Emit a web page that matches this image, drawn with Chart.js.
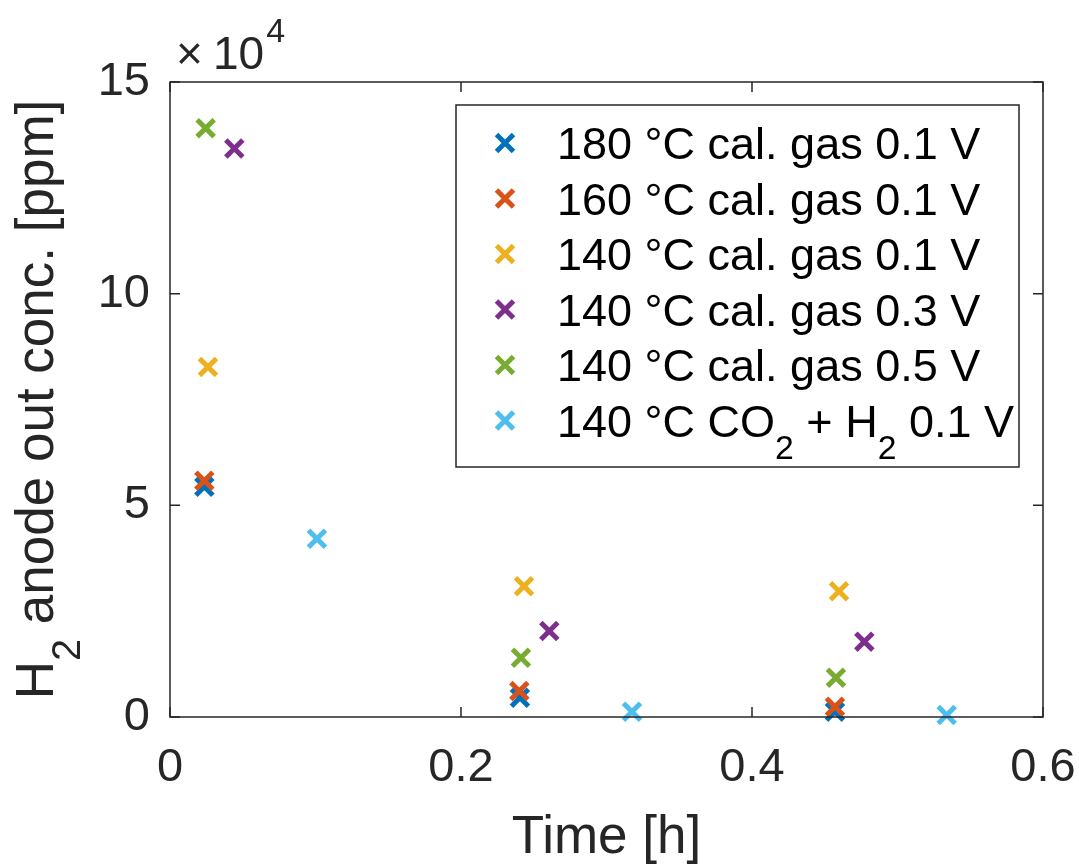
<!DOCTYPE html>
<html>
<head>
<meta charset="utf-8">
<script src="https://cdn.jsdelivr.net/npm/chart.js@4.4.0/dist/chart.umd.min.js"></script>
<style>
  html, body { margin: 0; padding: 0; background: #fff; }
  #wrap { width: 1079px; height: 866px; }
</style>
</head>
<body>
<div id="wrap"><canvas id="chart" width="1079" height="866"></canvas></div>
<script>
const seriesLabels = [
  "180 °C cal. gas 0.1 V",
  "160 °C cal. gas 0.1 V",
  "140 °C cal. gas 0.1 V",
  "140 °C cal. gas 0.3 V",
  "140 °C cal. gas 0.5 V",
  "140 °C CO_2 + H_2 0.1 V"
];
const seriesColors = ["#0072BD", "#D95319", "#EDB120", "#7E2F8E", "#77AC30", "#4DBEEE"];

// time [h] / H2 concentration [ppm] per run
const time180 = [0.0236, 0.2405, 0.4570];
const conc180 = [54400, 4560, 1250];
const time160 = [0.0236, 0.2401, 0.4570];
const conc160 = [55800, 6140, 2400];
const time140a = [0.0261, 0.2433, 0.4598];
const conc140a = [82700, 30900, 29700];
const time140b = [0.0442, 0.2607, 0.4772];
const conc140b = [134300, 20300, 17800];
const time140c = [0.0245, 0.2412, 0.4577];
const conc140c = [139100, 14000, 9300];
const timeCO2 = [0.1010, 0.3175, 0.5338];
const concCO2 = [42100, 1250, 470];

const xTicks = [0, 0.2, 0.4, 0.6];
const yTicks = [0, 50000, 100000, 150000];
const xTitle = "Time [h]";
const yTitle = "H_2 anode out conc. [ppm]";
const yExponent = 4;

const allTimes = [time180, time160, time140a, time140b, time140c, timeCO2];
const allConcs = [conc180, conc160, conc140a, conc140b, conc140c, concCO2];

const FONT = '"Liberation Sans", Arial, Helvetica, sans-serif';
const AXIS_COLOR = "#262626";

function texParts(str) {
  const parts = [];
  const re = /_(\{[^}]*\}|.)/g;
  let last = 0, m;
  while ((m = re.exec(str))) {
    if (m.index > last) parts.push({ text: str.slice(last, m.index), sub: false });
    parts.push({ text: m[1].replace(/[{}]/g, ""), sub: true });
    last = re.lastIndex;
  }
  if (last < str.length) parts.push({ text: str.slice(last), sub: false });
  return parts;
}

// draws a string with _x subscripts, baseline at y
function drawTex(ctx, str, x, y, size, align) {
  const parts = texParts(str);
  let width = 0;
  parts.forEach(p => {
    ctx.font = `${p.sub ? size * 0.75 : size}px ${FONT}`;
    p.w = ctx.measureText(p.text).width;
    width += p.w;
  });
  let cx = align === "center" ? x - width / 2 : x;
  ctx.textAlign = "left";
  ctx.textBaseline = "alphabetic";
  parts.forEach(p => {
    ctx.font = `${p.sub ? size * 0.75 : size}px ${FONT}`;
    ctx.fillText(p.text, cx, p.sub ? y + size * 0.5 : y);
    cx += p.w;
  });
}

const datasets = seriesLabels.map((label, i) => ({
  label: label,
  data: allTimes[i].map((t, j) => ({ x: t, y: allConcs[i][j] })),
  pointStyle: "crossRot",
  pointRadius: 12,
  pointHoverRadius: 12,
  pointBorderWidth: 5,
  pointHoverBorderWidth: 5,
  borderColor: seriesColors[i],
  backgroundColor: seriesColors[i],
  showLine: false,
  clip: false,
  order: seriesLabels.length - i
}));

// axes box with inward ticks on all four sides
const boxPlugin = {
  id: "matlabBox",
  afterDatasetsDraw(chart) {
    const { ctx, chartArea: a, scales } = chart;
    const len = 10;
    ctx.save();
    ctx.strokeStyle = AXIS_COLOR;
    ctx.lineWidth = 1.5;
    ctx.beginPath();
    xTicks.forEach(v => {
      const px = scales.x.getPixelForValue(v);
      ctx.moveTo(px, a.bottom); ctx.lineTo(px, a.bottom - len);
      ctx.moveTo(px, a.top); ctx.lineTo(px, a.top + len);
    });
    yTicks.forEach(v => {
      const py = scales.y.getPixelForValue(v);
      ctx.moveTo(a.left, py); ctx.lineTo(a.left + len, py);
      ctx.moveTo(a.right, py); ctx.lineTo(a.right - len, py);
    });
    ctx.stroke();
    ctx.strokeRect(a.left, a.top, a.right - a.left, a.bottom - a.top);

    // exponent above the y axis
    ctx.fillStyle = AXIS_COLOR;
    ctx.textAlign = "left";
    ctx.textBaseline = "alphabetic";
    ctx.font = `46px ${FONT}`;
    ctx.fillText("\u00d7", a.left + 6, a.top - 13);
    ctx.fillText("10", a.left + 43, a.top - 13);
    const bw = ctx.measureText("10").width;
    ctx.font = `34px ${FONT}`;
    ctx.fillText(String(yExponent), a.left + 45 + bw, a.top - 40);

    // axis titles
    drawTex(ctx, xTitle, (a.left + a.right) / 2, 853, 53, "center");
    ctx.translate(53, (a.top + a.bottom) / 2);
    ctx.rotate(-Math.PI / 2);
    drawTex(ctx, yTitle, 0, 0, 53, "center");
    ctx.restore();
  }
};

// boxed legend in the upper right of the axes
const legendPlugin = {
  id: "matlabLegend",
  afterDraw(chart) {
    const { ctx } = chart;
    const box = { left: 456, top: 105, right: 1019, bottom: 467 };
    ctx.save();
    ctx.fillStyle = "#fff";
    ctx.fillRect(box.left, box.top, box.right - box.left, box.bottom - box.top);
    ctx.strokeStyle = AXIS_COLOR;
    ctx.lineWidth = 1.5;
    ctx.strokeRect(box.left, box.top, box.right - box.left, box.bottom - box.top);
    chart.data.datasets.forEach((ds, i) => {
      const cy = 143 + i * 55.5;
      ctx.strokeStyle = ds.borderColor;
      ctx.fillStyle = ds.borderColor;
      ctx.lineWidth = 5;
      Chart.helpers.drawPoint(ctx, { pointStyle: "crossRot", radius: 12, borderWidth: 5, rotation: 0 }, 505, cy);
      ctx.fillStyle = "#000";
      drawTex(ctx, ds.label, 557, cy + 16, 45, "left");
    });
    ctx.restore();
  }
};

new Chart(document.getElementById("chart"), {
  type: "scatter",
  data: { datasets },
  options: {
    responsive: false,
    animation: false,
    devicePixelRatio: 1,
    layout: { padding: { top: 82, right: 36, left: 0, bottom: 0 } },
    plugins: {
      legend: { display: false },
      tooltip: { enabled: false }
    },
    scales: {
      x: {
        type: "linear",
        min: 0,
        max: 0.6,
        afterBuildTicks: s => { s.ticks = xTicks.map(v => ({ value: v })); },
        afterFit: s => {
          s.height = 149;
          s.paddingLeft = 0;
          s.paddingRight = 0;
        },
        grid: { display: false, drawTicks: false },
        border: { display: false },
        ticks: {
          padding: 23,
          color: AXIS_COLOR,
          font: { family: FONT, size: 47 },
          maxRotation: 0,
          callback: v => (v === 0 ? "0" : v.toFixed(1))
        }
      },
      y: {
        type: "linear",
        min: 0,
        max: 150000,
        afterBuildTicks: s => { s.ticks = yTicks.map(v => ({ value: v })); },
        afterFit: s => {
          s.width = 170;
          s.paddingTop = 0;
          s.paddingBottom = 0;
        },
        grid: { display: false, drawTicks: false },
        border: { display: false },
        ticks: {
          padding: 20,
          color: AXIS_COLOR,
          font: { family: FONT, size: 47 },
          callback: v => String(v / Math.pow(10, yExponent))
        }
      }
    }
  },
  plugins: [boxPlugin, legendPlugin]
});
</script>
</body>
</html>
